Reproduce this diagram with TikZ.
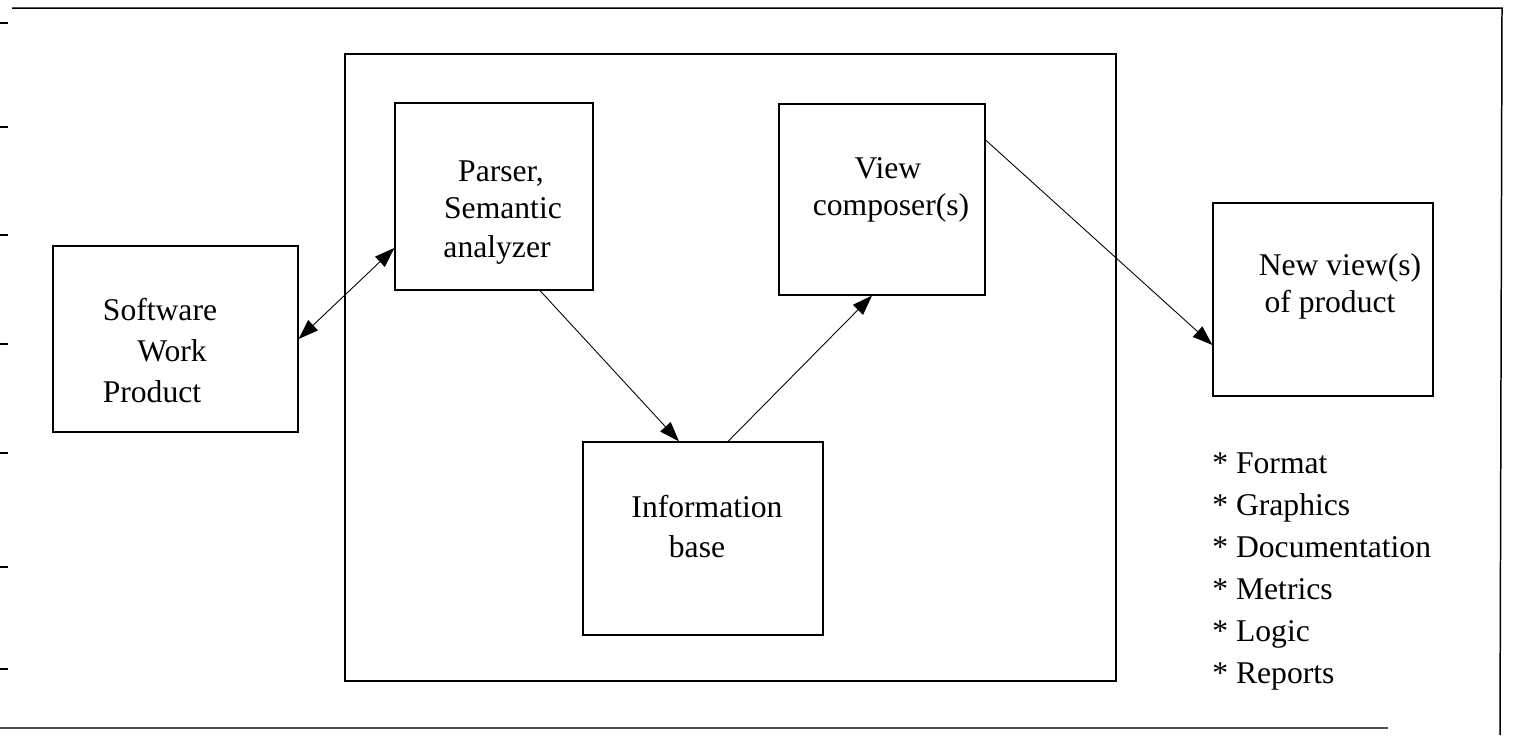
\documentclass[tikz,border=0pt]{standalone}
\usepackage{fontspec}
\setmainfont{Liberation Serif}
\usetikzlibrary{arrows.meta,calc}
\tikzset{
	box/.style={draw, line width=0.7pt, inner sep=0pt},
	lbl/.style={anchor=base, inner sep=0pt, font=\fontsize{18}{21}\selectfont},
	item/.style={lbl, anchor=base west},
	conn/.style={line width=0.5pt}
}

\begin{document}
\begin{tikzpicture}[x=0.02cm, y=-0.02cm, >={Triangle[length=0.4cm,width=0.28cm]}]
		%%%%% START %%%%%
		\useasboundingbox (0,0) rectangle (1514,735);
		
		% page frame and punch marks
		\draw[line width=0.85pt] (12,8) -- (1502,8) -- (1500,735);
		\draw[line width=0.85pt, color=black!70] (0,728) -- (1388,728);
		\foreach \y in {23,127,235,344,453,567,669}
			\draw[line width=1pt] (0,\y) -- (8,\y);
		
		\node[box, minimum width=15.42cm, minimum height=12.54cm] (tool) at (730.5,367.5) {};
		
		\node[box, minimum width=4.9cm, minimum height=3.72cm] (sw) at (175.5,339) {};
		\node[box, minimum width=3.96cm, minimum height=3.74cm] (ps) at (494,196.5) {};
		\node[box, minimum width=4.12cm, minimum height=3.82cm] (vc) at (882,199.5) {};
		\node[box, minimum width=4.8cm, minimum height=3.86cm] (ib) at (703,538.5) {};
		\node[box, minimum width=4.4cm, minimum height=3.86cm] (nv) at (1323,299.5) {};
		
		\node[lbl] (sw1) at (160,320) {Software};
		\node[lbl] (sw2) at (172,361) {Work};
		\node[lbl] (sw3) at (152,402) {Product};
		
		\node[lbl] (ps1) at (501,181) {Parser,};
		\node[lbl] (ps2) at (503,218) {Semantic};
		\node[lbl] (ps3) at (497,257) {analyzer};
		
		\node[lbl] (vc1) at (888,178) {View};
		\node[lbl] (vc2) at (891,215) {composer(s)};
		
		\node[lbl] (ib1) at (707,517) {Information};
		\node[lbl] (ib2) at (697,557) {base};
		
		\node[lbl] (nv1) at (1340,275) {New view(s)};
		\node[lbl] (nv2) at (1330,312) {of product};
		
		\node[item] (f1) at (1212,473) {* Format};
		\node[item] (f2) at (1212,515) {* Graphics};
		\node[item] (f3) at (1212,557) {* Documentation};
		\node[item] (f4) at (1212,599) {* Metrics};
		\node[item] (f5) at (1212,641) {* Logic};
		\node[item] (f6) at (1212,683) {* Reports};
		
		\draw[conn, <->] (sw.east) -- ([yshift=-1.03cm]ps.west);
		\draw[conn, ->] ([xshift=0.92cm]ps.south) -- ([xshift=-0.48cm]ib.north);
		\draw[conn, ->] ([xshift=0.5cm]ib.north) -- ([xshift=-0.2cm]vc.south);
		\draw[conn, ->] ([yshift=1.19cm]vc.east) -- ([yshift=-0.91cm]nv.west);
		
		%%%%% END %%%%%
	\end{tikzpicture}
\end{document}
